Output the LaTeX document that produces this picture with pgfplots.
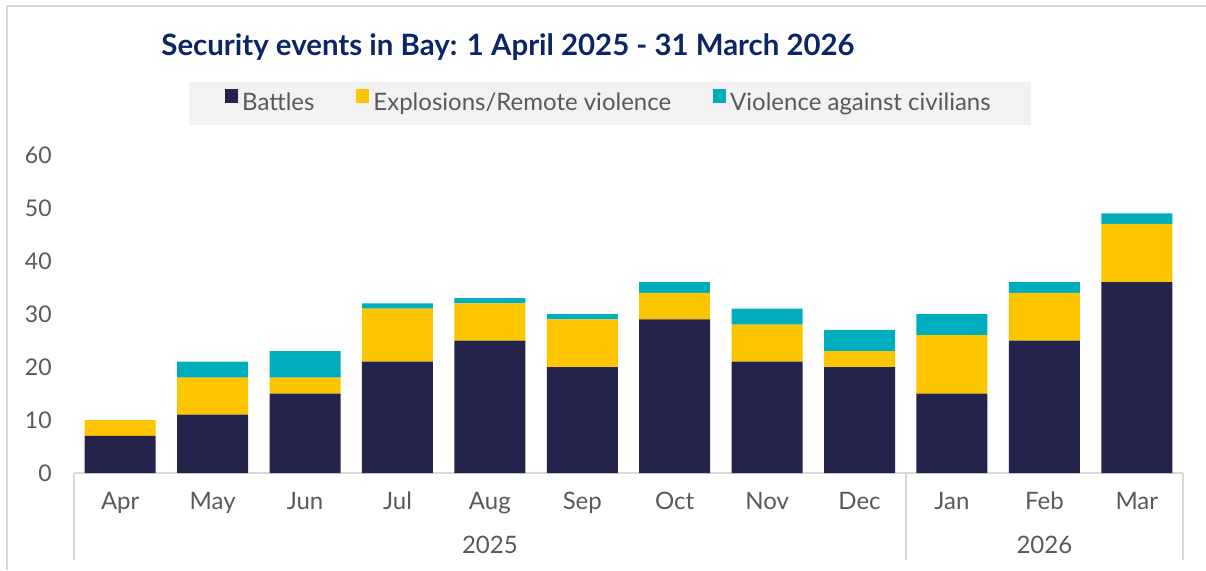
\documentclass[border=0pt]{standalone}
\usepackage{pgfplots}
\usepackage{pgfplotstable}
\pgfplotsset{compat=1.18}
\usepackage{fontspec}
\setmainfont{Lato}
\definecolor{cNavy}{HTML}{24234C}
\definecolor{cGold}{HTML}{FCC500}
\definecolor{cTeal}{HTML}{00ADBD}
\definecolor{cTitle}{HTML}{0C2566}
\definecolor{cTxt}{HTML}{595959}
\definecolor{cFrame}{HTML}{D9D9D9}
\definecolor{cLeg}{HTML}{F2F2F2}
\pgfplotstableread{
x b e v
0 7 3 0
1 11 7 3
2 15 3 5
3 21 10 1
4 25 7 1
5 20 9 1
6 29 5 2
7 21 7 3
8 20 3 4
9 15 11 4
10 25 9 2
11 36 11 2
}\data
\begin{document}
\begin{tikzpicture}
\path[use as bounding box] (0,0) rectangle (603pt,285pt);
\draw[cFrame, line width=1pt] (3.5pt,0) -- (3.5pt,282pt) -- (603pt,282pt);
\node[anchor=west, inner sep=0pt, text=cTitle, font=\fontsize{14.7}{17}\selectfont\bfseries] at (80.5pt,261.5pt) {Security events in Bay: 1 April 2025 - 31 March 2026};
\begin{axis}[
  at={(37pt,48.5pt)}, anchor=south west, scale only axis,
  width=554.5pt, height=159pt,
  xmin=-0.5, xmax=11.5, ymin=0, ymax=60,
  ybar stacked, bar width=35.5pt,
  axis line style={draw=none}, major tick length=0pt,
  clip=false,
  xtick={0,...,11},
  xticklabels={Apr,May,Jun,Jul,Aug,Sep,Oct,Nov,Dec,Jan,Feb,Mar},
  ytick={0,10,...,60},
  tick label style={font=\fontsize{11.5}{13}\selectfont, text=cTxt},
  /pgf/number format/assume math mode=true,
  xticklabel style={anchor=base, yshift=-18pt, font=\fontsize{12}{13}\selectfont},
  yticklabel style={anchor=east, inner sep=0pt, xshift=-11pt},
  legend columns=3,
  legend style={at={(0.4833,1.162)}, anchor=center, draw=none, fill=cLeg,
    font=\fontsize{12}{14}\selectfont, text=cTxt,
    inner xsep=18pt, inner ysep=3.5pt,
    /tikz/every even column/.append style={column sep=19pt}},
  legend image code/.code={\fill[#1] (0pt,0.3pt) rectangle (6.5pt,7pt);},
]
\addplot[fill=cNavy, draw=none] table[x=x,y=b]{\data};
\addplot[fill=cGold, draw=none] table[x=x,y=e]{\data};
\addplot[fill=cTeal, draw=none] table[x=x,y=v]{\data};
\legend{Battles, Explosions/Remote violence, Violence against civilians}
\draw[cFrame, line width=1pt] (axis cs:-0.5,0) -- (axis cs:11.5,0);
\draw[cFrame, line width=1pt] (axis cs:-0.5,0) -- ++(0pt,-43.5pt);
\draw[cFrame, line width=1pt] (axis cs:8.5,0) -- ++(0pt,-43.5pt);
\draw[cFrame, line width=1pt] (axis cs:11.5,0) -- ++(0pt,-43.5pt);
\node[anchor=base, text=cTxt, font=\fontsize{12}{13}\selectfont] at ([yshift=-40pt]axis cs:4,0) {2025};
\node[anchor=base, text=cTxt, font=\fontsize{12}{13}\selectfont] at ([yshift=-40pt]axis cs:10,0) {2026};
\end{axis}
\end{tikzpicture}
\end{document}
